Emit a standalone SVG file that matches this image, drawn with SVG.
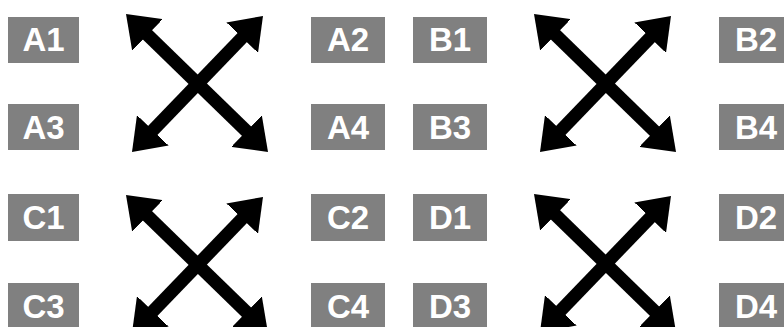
<svg xmlns="http://www.w3.org/2000/svg" width="784" height="327" viewBox="0 0 784 327">
<style>
.box{fill:#808080}
.lbl{fill:#ffffff;font-family:"Liberation Sans",Arial,sans-serif;font-weight:bold;font-size:33px;text-anchor:middle}
.arr{stroke:#000000;stroke-width:13;fill:none;marker-start:url(#head);marker-end:url(#head)}
</style>
<defs>
<marker id="head" markerUnits="userSpaceOnUse" markerWidth="30" markerHeight="44" viewBox="0 0 30 44" refX="12" refY="22" orient="auto-start-reverse">
<path d="M0,0 L30,22 L0,44 z" fill="#000000"/>
</marker>
<g id="xarrows">
<line class="arr" x1="138.9" y1="26.5" x2="255.1" y2="139.5"/>
<line class="arr" x1="250.5" y1="29" x2="144.5" y2="139"/>
</g>
</defs>
<rect width="784" height="327" fill="#ffffff"/>
<g id="connectors">
<use href="#xarrows"/>
<use href="#xarrows" transform="translate(408,0)"/>
<use href="#xarrows" transform="translate(0,181)"/>
<use href="#xarrows" transform="translate(408,180)"/>
</g>
<g id="A1"><rect class="box" x="8" y="17" width="71" height="46"/><text class="lbl" x="43.5" y="51">A1</text></g>
<g id="A2"><rect class="box" x="311" y="17" width="74" height="46"/><text class="lbl" x="348" y="51">A2</text></g>
<g id="A3"><rect class="box" x="8" y="104" width="71" height="46"/><text class="lbl" x="43.5" y="139">A3</text></g>
<g id="A4"><rect class="box" x="311" y="104" width="74" height="46"/><text class="lbl" x="348" y="139">A4</text></g>
<g id="B1"><rect class="box" x="413" y="17" width="74" height="46"/><text class="lbl" x="450" y="51">B1</text></g>
<g id="B2"><rect class="box" x="719" y="17" width="74" height="46"/><text class="lbl" x="756" y="51">B2</text></g>
<g id="B3"><rect class="box" x="413" y="104" width="74" height="46"/><text class="lbl" x="450" y="139">B3</text></g>
<g id="B4"><rect class="box" x="719" y="104" width="74" height="46"/><text class="lbl" x="756" y="139">B4</text></g>
<g id="C1"><rect class="box" x="8" y="194" width="71" height="47"/><text class="lbl" x="43.5" y="229">C1</text></g>
<g id="C2"><rect class="box" x="311" y="194" width="74" height="47"/><text class="lbl" x="348" y="229">C2</text></g>
<g id="C3"><rect class="box" x="8" y="283" width="71" height="47"/><text class="lbl" x="43.5" y="318">C3</text></g>
<g id="C4"><rect class="box" x="311" y="283" width="74" height="47"/><text class="lbl" x="348" y="318">C4</text></g>
<g id="D1"><rect class="box" x="413" y="194" width="74" height="47"/><text class="lbl" x="450" y="229">D1</text></g>
<g id="D2"><rect class="box" x="719" y="194" width="74" height="47"/><text class="lbl" x="756" y="229">D2</text></g>
<g id="D3"><rect class="box" x="413" y="283" width="74" height="47"/><text class="lbl" x="450" y="318">D3</text></g>
<g id="D4"><rect class="box" x="719" y="283" width="74" height="47"/><text class="lbl" x="756" y="318">D4</text></g>
</svg>
